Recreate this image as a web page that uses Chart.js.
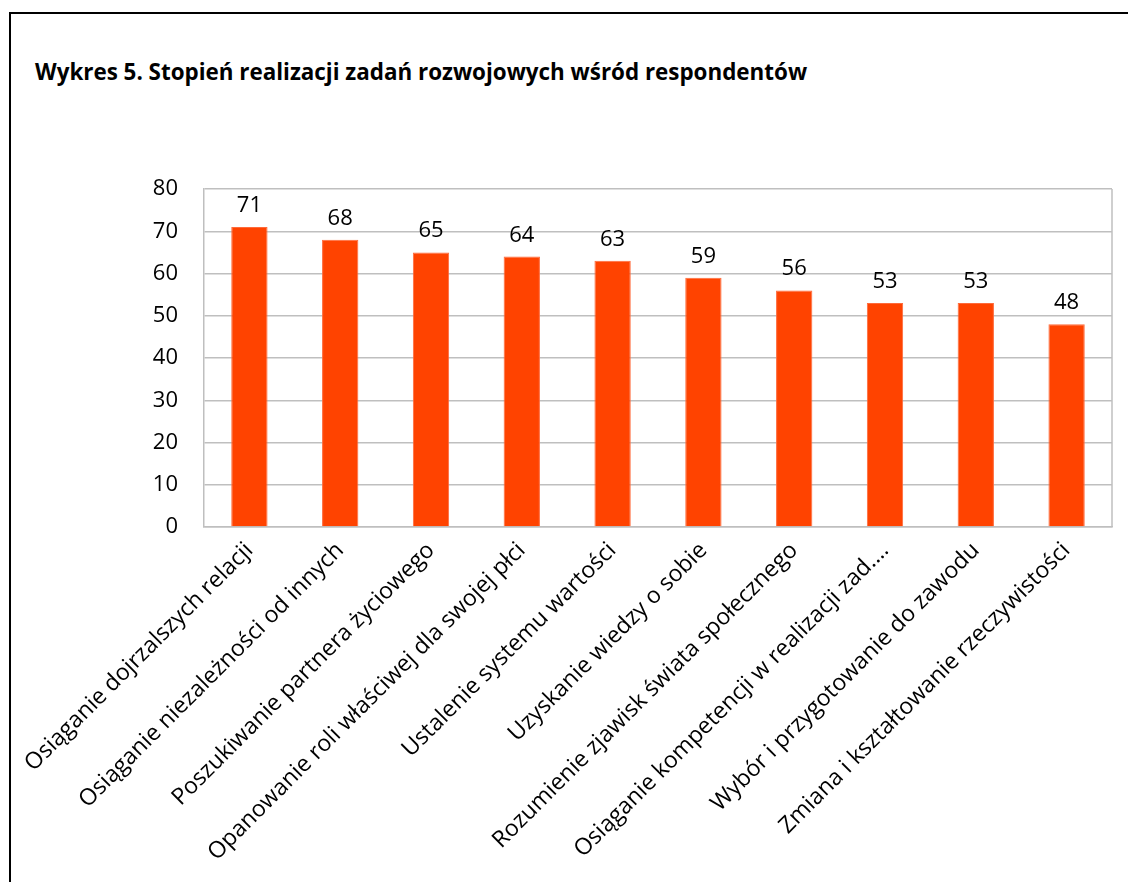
<!DOCTYPE html>
<html>
<head>
<meta charset="utf-8">
<script src="https://cdn.jsdelivr.net/npm/chart.js@4/dist/chart.umd.min.js"></script>
<style>
  body { margin: 0; background: #fff; overflow: hidden; }
  #frame {
    position: absolute; left: 9px; top: 12px; width: 1200px; height: 1000px;
    border: 2px solid #000; box-sizing: border-box;
  }
  #title {
    position: absolute; left: 35px; top: 56px;
    font: bold 22.4px "Open Sans", sans-serif; color: #000; white-space: nowrap;
  }
  #chart { position: absolute; left: 0; top: 0; }
</style>
</head>
<body>
<div id="frame"></div>
<div id="title">Wykres 5. Stopień realizacji zadań rozwojowych wśród respondentów</div>
<canvas id="chart" width="1128" height="882"></canvas>
<script>
const categories = [
  "Osiąganie dojrzalszych relacji",
  "Osiąganie niezależności od innych",
  "Poszukiwanie partnera życiowego",
  "Opanowanie roli właściwej dla swojej płci",
  "Ustalenie systemu wartości",
  "Uzyskanie wiedzy o sobie",
  "Rozumienie zjawisk świata społecznego",
  "Osiąganie kompetencji w realizacji zad.…",
  "Wybór i przygotowanie do zawodu",
  "Zmiana i kształtowanie rzeczywistości"
];
const values = [71, 68, 65, 64, 63, 59, 56, 53, 53, 48];
const yTicks = [0, 10, 20, 30, 40, 50, 60, 70, 80];

const FONT = "'Open Sans', sans-serif";

// value labels above bars
const valueLabels = {
  id: "valueLabels",
  afterDatasetsDraw(chart) {
    const ctx = chart.ctx;
    const meta = chart.getDatasetMeta(0);
    ctx.save();
    ctx.font = "22px " + FONT;
    ctx.fillStyle = "#000";
    ctx.textAlign = "center";
    ctx.textBaseline = "alphabetic";
    meta.data.forEach((bar, i) => {
      ctx.fillText(values[i], bar.x, bar.y - 15);
    });
    ctx.restore();
  }
};

// right edge of plot area
const plotBorder = {
  id: "plotBorder",
  afterDraw(chart) {
    const a = chart.chartArea;
    const ctx = chart.ctx;
    ctx.save();
    ctx.strokeStyle = "#bfbfbf";
    ctx.lineWidth = 1.5;
    ctx.beginPath();
    ctx.moveTo(a.right, a.top);
    ctx.lineTo(a.right, a.bottom);
    ctx.stroke();
    ctx.restore();
  }
};

new Chart(document.getElementById("chart"), {
  type: "bar",
  data: {
    labels: categories,
    datasets: [{
      data: values,
      backgroundColor: "#ff4300",
      borderColor: "#ff6a3a",
      borderWidth: 1,
      categoryPercentage: 1,
      barPercentage: 0.4
    }]
  },
  options: {
    responsive: false,
    animation: false,
    layout: { padding: { left: 35, top: 189, right: 16, bottom: 0 } },
    plugins: {
      legend: { display: false },
      tooltip: { enabled: false },
      title: { display: false }
    },
    scales: {
      y: {
        min: 0,
        max: 80,
        afterBuildTicks: s => { s.ticks = yTicks.map(v => ({ value: v })); },
        afterFit: s => { s.width = 169; },
        grid: { color: "#bfbfbf", lineWidth: 1.5, drawTicks: false },
        border: { color: "#bfbfbf", width: 1.5 },
        ticks: { color: "#000", font: { family: FONT, size: 22 }, padding: 26 }
      },
      x: {
        afterFit: s => { s.height = 355; },
        grid: { display: false, drawTicks: false },
        border: { color: "#bfbfbf", width: 1.5 },
        ticks: {
          color: "#000",
          font: { family: FONT, size: 23 },
          maxRotation: 45,
          minRotation: 45,
          autoSkip: false,
          padding: 10
        }
      }
    }
  },
  plugins: [valueLabels, plotBorder]
});
</script>
</body>
</html>
